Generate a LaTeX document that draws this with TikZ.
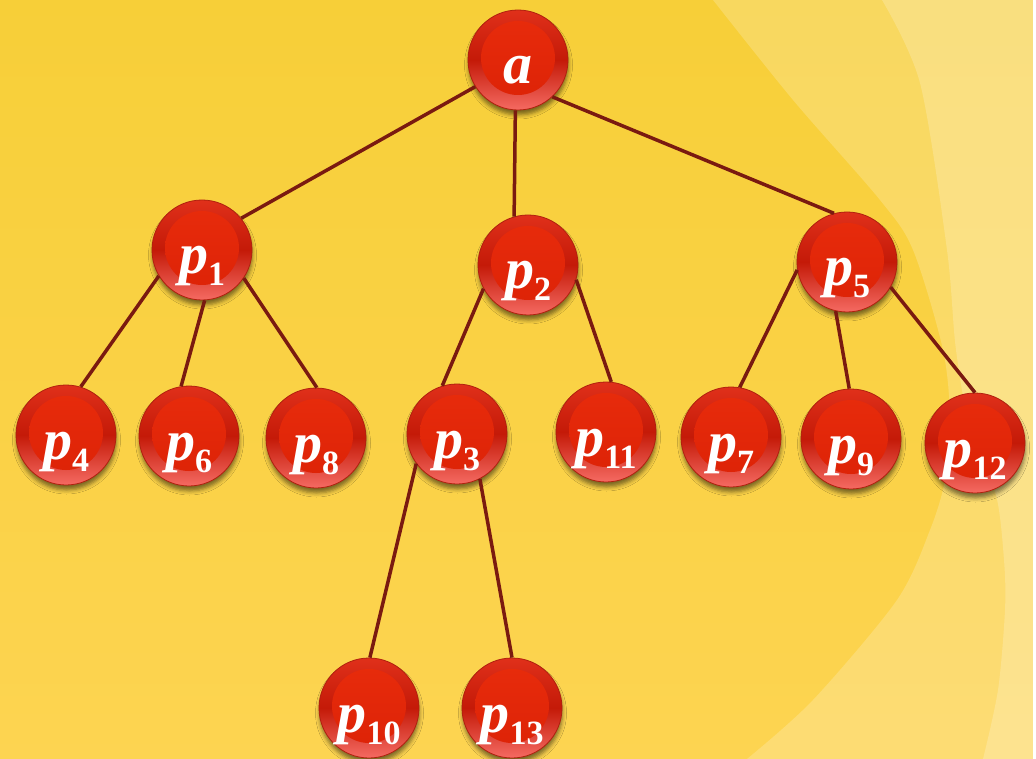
\documentclass[tikz,border=0pt]{standalone}
\usepackage{fontspec}
\setmainfont{Liberation Serif}
\usetikzlibrary{shadows.blur}
\definecolor{bgTop}{HTML}{F7CF38}
\definecolor{bgBot}{HTML}{FDD451}
\definecolor{edgecol}{HTML}{7A1A10}
\definecolor{ringTop}{HTML}{E0301A}
\definecolor{ringMid}{HTML}{C41A08}
\definecolor{ringBot}{HTML}{F56A62}
\definecolor{innerTop}{HTML}{E82C0C}
\definecolor{innerBot}{HTML}{DC2206}
\definecolor{ballline}{HTML}{B0200E}
\newcommand\plab[1]{\textit{p}\raisebox{-12pt}{\fontsize{34}{34}\selectfont #1}}
\begin{document}
\begin{tikzpicture}[x=1pt,y=-1pt,
 ball/.style={circle, minimum size=100pt, inner sep=0pt, draw=ballline, line width=0.8pt,
   top color=ringTop, bottom color=ringBot, middle color=ringMid,
   blur shadow={shadow xshift=0.5pt, shadow yshift=-5pt, shadow blur radius=4pt, shadow opacity=50},
   path picture={\shade[top color=innerTop, bottom color=innerBot] ([yshift=2pt]path picture bounding box.center) circle[radius=37pt];},
   text=white, font=\fontsize{58}{58}\selectfont\bfseries, text height=50pt, text depth=2pt},
 edge/.style={draw=edgecol, line width=3.5pt},
 light/.style={fill=white, opacity=0.2}]
\useasboundingbox (0,0) rectangle (1036,759);
% background
\shade[top color=bgTop, bottom color=bgBot] (0,0) rectangle (1036,759);
\fill[light] plot[smooth] coordinates {(713,0) (793,100) (880,200) (913,250) (943,350) (950,420) (945,480) (930,530) (897,600) (813,700) (747,759)} -- (1036,759) -- (1036,0) -- cycle;
\fill[light] plot[smooth] coordinates {(882,0) (920,83) (947,250) (956,350) (972,440) (996,495) (1004,560) (1005,610) (998,690) (983,759)} -- (1036,759) -- (1036,0) -- cycle;
\fill[white] (1033,0) rectangle (1036,759);
% nodes
\node[ball] (a) at (518,60) {\textit{a}};
\node[ball] (p1) at (202,250) {\plab{1}};
\node[ball] (p2) at (528,265) {\plab{2}};
\node[ball] (p5) at (847,262) {\plab{5}};
\node[ball] (p4) at (66,435) {\plab{4}};
\node[ball] (p6) at (189,436) {\plab{6}};
\node[ball] (p8) at (316,438) {\plab{8}};
\node[ball] (p3) at (457,434) {\plab{3}};
\node[ball] (p11) at (606,432) {\plab{11}};
\node[ball] (p7) at (731,437) {\plab{7}};
\node[ball] (p9) at (851,439) {\plab{9}};
\node[ball] (p12) at (975,443) {\plab{12}};
\node[ball] (p10) at (369,708) {\plab{10}};
\node[ball] (p13) at (512,708) {\plab{13}};
% edges
\draw[edge] (a.212) -- (p1.39);
\draw[edge] (a.267) -- (p2.106);
\draw[edge] (a.313) -- (p5.105);
\draw[edge] (p1.211) -- (p4.73);
\draw[edge] (p1.273) -- (p6.99);
\draw[edge] (p1.326) -- (p8.89);
\draw[edge] (p2.208) -- (p3.107);
\draw[edge] (p2.343) -- (p11.84);
\draw[edge] (p3.216) -- (p10.89);
\draw[edge] (p3.297) -- (p13.90);
\draw[edge] (p5.189) -- (p7.80);
\draw[edge] (p5.257) -- (p9.92);
\draw[edge] (p5.330) -- (p12.90);
\end{tikzpicture}
\end{document}
